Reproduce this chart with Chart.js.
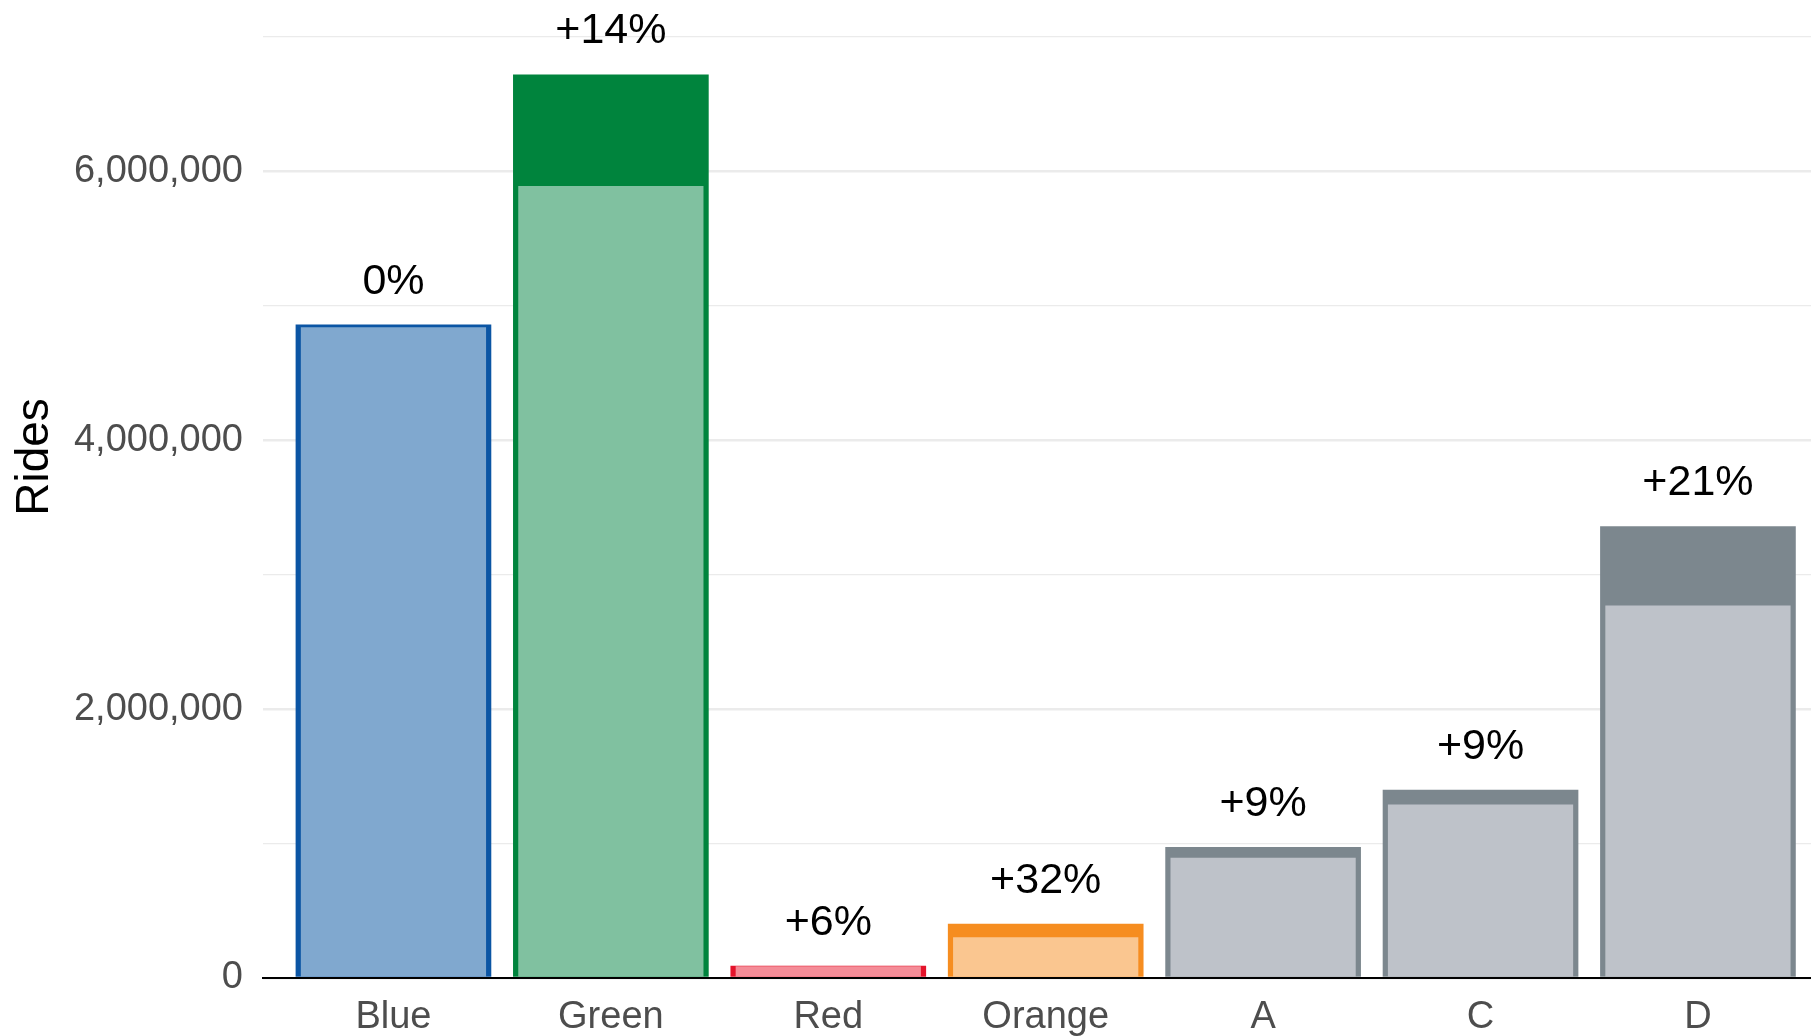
<!DOCTYPE html>
<html>
<head>
<meta charset="utf-8">
<script src="https://cdn.jsdelivr.net/npm/chart.js@4/dist/chart.umd.min.js"></script>
<style>
  html, body { margin: 0; padding: 0; background: #fff; overflow: hidden; }
  #frame { width: 1811px; height: 1036px; position: relative; overflow: hidden; }
  /* the original picture is a crop of a taller plot: the panel starts above the top edge */
  #wrap { width: 1811px; height: 1100px; position: absolute; left: 0; top: -64px; }
</style>
</head>
<body>
<div id="frame"><div id="wrap"><canvas id="rides"></canvas></div></div>
<script>
const lines = ['Blue', 'Green', 'Red', 'Orange', 'A', 'C', 'D'];
const baseRides = [4840000, 5890000, 87000, 303000, 895000, 1290000, 2770000];
const currentRides = [4860000, 6720000, 92000, 404000, 975000, 1400000, 3360000];
const changeLabels = ['0%', '+14%', '+6%', '+32%', '+9%', '+9%', '+21%'];
const yTicks = [0, 1000000, 2000000, 3000000, 4000000, 5000000, 6000000, 7000000];

const darkColors = ['#0B55A4', '#00843D', '#E4132B', '#F68D20', '#7C878E', '#7C878E', '#7C878E'];
const lightColors = ['#80A8CF', '#80C1A0', '#F48C97', '#FAC690', '#BEC2C9', '#BEC2C9', '#BEC2C9'];

const FONT = '"Liberation Sans", Arial, Helvetica, sans-serif';

// percent change written above each bar
const changeLabelPlugin = {
    id: 'changeLabels',
    afterDatasetsDraw(chart) {
        const meta = chart.getDatasetMeta(0);
        const ctx = chart.ctx;
        ctx.save();
        ctx.font = '43px ' + FONT;
        ctx.fillStyle = '#000';
        ctx.textAlign = 'center';
        ctx.textBaseline = 'alphabetic';
        meta.data.forEach((bar, i) => ctx.fillText(changeLabels[i], bar.x, bar.y - 31));
        ctx.restore();
    }
};

new Chart(document.getElementById('rides'), {
    type: 'bar',
    data: {
        datasets: [
            {
                label: 'current',
                data: lines.map((_, i) => ({x: i, y: currentRides[i]})),
                backgroundColor: darkColors,
                borderWidth: 0,
                grouped: false,
                barPercentage: 0.9,
                categoryPercentage: 1,
                order: 2,
            },
            {
                label: 'base',
                data: lines.map((_, i) => ({x: i, y: baseRides[i]})),
                backgroundColor: lightColors,
                borderWidth: 0,
                grouped: false,
                barPercentage: 0.852,
                categoryPercentage: 1,
                order: 1,
            }
        ]
    },
    options: {
        responsive: true,
        maintainAspectRatio: false,
        animation: false,
        layout: {padding: 0},
        plugins: {
            legend: {display: false},
            tooltip: {enabled: false},
        },
        scales: {
            x: {
                type: 'linear',
                min: -0.6,
                max: 6.52,
                offset: false,
                z: 1,
                grid: {display: false, drawTicks: false, offset: false},
                border: {display: true, color: '#000', width: 2},
                afterBuildTicks: axis => { axis.ticks = lines.map((_, i) => ({value: i})); },
                afterFit: axis => {
                    axis.height = 58;
                    axis.paddingLeft = 0;
                    axis.paddingRight = 0;
                },
                ticks: {
                    padding: 17,
                    color: '#4D4D4D',
                    font: {size: 38, family: FONT},
                    maxRotation: 0,
                    autoSkip: false,
                    callback: v => lines[v],
                }
            },
            y: {
                min: 0,
                max: 7750000,
                afterBuildTicks: axis => { axis.ticks = yTicks.map(v => ({value: v})); },
                afterFit: axis => {
                    axis.width = 263;
                    axis.paddingTop = 0;
                    axis.paddingBottom = 0;
                },
                border: {display: false},
                grid: {
                    drawTicks: false,
                    color: '#EBEBEB',
                    lineWidth: c => (c.tick && c.tick.value % 2000000 === 0) ? 2.6 : 1.3,
                },
                ticks: {
                    padding: 20,
                    color: '#4D4D4D',
                    font: {size: 38, family: FONT},
                    callback: v => v % 2000000 === 0 ? v.toLocaleString('en-US') : '',
                },
                title: {
                    display: true,
                    text: 'Rides',
                    color: '#000',
                    font: {size: 46, family: FONT},
                    padding: {top: 8, bottom: 0},
                }
            }
        }
    },
    plugins: [changeLabelPlugin]
});
</script>
</body>
</html>
